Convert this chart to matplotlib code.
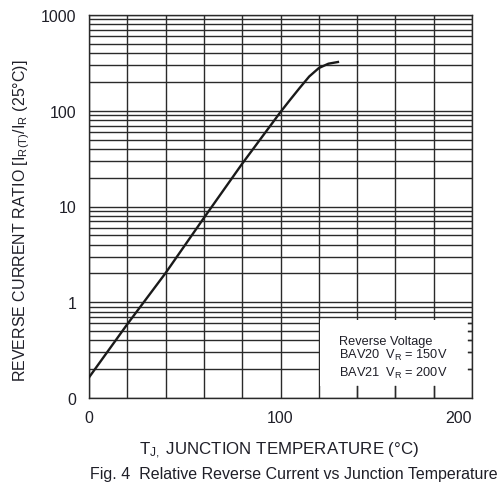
import numpy as np
import matplotlib
matplotlib.use("Agg")
import matplotlib.pyplot as plt
from matplotlib.ticker import LogLocator, NullFormatter
from matplotlib.patches import Rectangle

# values
temps = [0, 20, 40, 60, 80, 100, 105, 110, 115, 120, 125, 130]
ratio = [0.164, 0.59, 2.02, 7.6, 28, 97, 130, 173, 228, 279, 310, 323]

x_ticks = [0, 100, 200]
x_tick_labels = ['0', '100', '200']
y_ticks = [0.1, 1, 10, 100, 1000]
y_tick_labels = ['0', '1', '10', '100', '1000']

legend_lines = ['Reverse Voltage',
                r'BAV20  V$_\mathrm{R}$ = 150V',
                r'BAV21  V$_\mathrm{R}$ = 200V']

plt.rcParams.update({
    'font.family': ['Liberation Sans', 'DejaVu Sans'],
    'mathtext.fontset': 'custom',
    'mathtext.rm': 'Liberation Sans',
    'mathtext.it': 'Liberation Sans:italic',
    'mathtext.bf': 'Liberation Sans:bold',
})

text_color = '#1f1f28'
grid_color = '#2a2a2a'

fig = plt.figure(figsize=(4.99, 4.85), dpi=100)
ax = fig.add_axes([89 / 499, 86 / 485, 383 / 499, 383 / 485])

ax.set_yscale('log')
ax.set_xlim(0, 200)
ax.set_ylim(0.1, 1000)

# grid: every 20 degC, log minor lines 2..9
ax.set_xticks(np.arange(0, 201, 20), minor=True)
ax.set_xticks(x_ticks)
ax.set_xticklabels(x_tick_labels)
ax.yaxis.set_minor_locator(LogLocator(base=10, subs=np.arange(2, 10)))
ax.yaxis.set_minor_formatter(NullFormatter())
ax.set_yticks(y_ticks)
ax.set_yticklabels(y_tick_labels)
ax.grid(True, which='both', color=grid_color, linewidth=1.0)
for sp in ax.spines.values():
    sp.set_color(grid_color)
    sp.set_linewidth(1.0)

ax.tick_params(which='both', length=0)
ax.tick_params(axis='x', pad=9, labelsize=11.5, labelcolor=text_color)
ax.tick_params(axis='y', pad=9, labelsize=11.5, labelcolor=text_color)
ax.get_xticklabels()[-1].set_horizontalalignment('right')

# white box for the legend text, grid only shows as short stubs at the edges
box = Rectangle((0.603, 0.031), 0.386, 0.172, transform=ax.transAxes,
                facecolor='white', edgecolor='none', zorder=2)
ax.add_patch(box)
for xv in [140, 160, 180]:
    ax.plot([xv, xv], [0.1, 0.134], color=grid_color, lw=1.0, zorder=2.5)
for yv in [0.2, 0.3, 0.4, 0.5, 0.6]:
    ax.plot([197.9, 200], [yv, yv], color=grid_color, lw=1.0, zorder=2.5)

ax.plot(temps, ratio, color='#1a1a1a', linewidth=1.7, zorder=3,
        solid_joinstyle='round')

for i, line in enumerate(legend_lines):
    ax.text(0.653, [0.149, 0.115, 0.068][i], line, transform=ax.transAxes,
            fontsize=9.2, color=text_color, va='center', ha='left', zorder=4)

fig.text(21.5 / 499, 1 - 221 / 485,
         r'REVERSE CURRENT RATIO [I$_\mathrm{R(T)}$/I$_\mathrm{R}$ (25°C)]',
         rotation=90, ha='center', va='center', fontsize=11.5, color=text_color)
fig.text(279 / 499, 1 - 450.5 / 485, r'T$_\mathrm{J,}$ JUNCTION TEMPERATURE (°C)',
         ha='center', va='center', fontsize=12.2, color=text_color)
fig.text(293.5 / 499, 1 - 474.5 / 485,
         'Fig. 4  Relative Reverse Current vs Junction Temperature',
         ha='center', va='center', fontsize=11.5, color=text_color)

fig.savefig('out.png', dpi=100)
